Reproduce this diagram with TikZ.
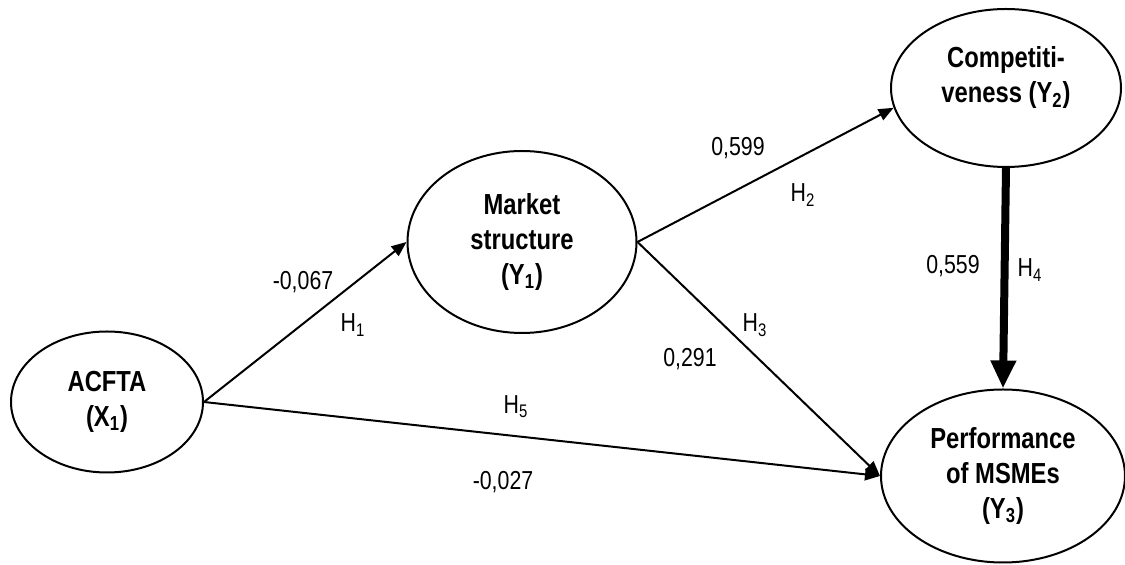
\documentclass[tikz,border=0pt]{standalone}
\usepackage{fontspec}
\setmainfont{Liberation Sans}[FakeStretch=0.82]
\usetikzlibrary{shapes.geometric,arrows.meta}

\begin{document}
\begin{tikzpicture}[x=0.5pt, y=-0.5pt,
    latent/.style={draw, ellipse, line width=1pt, inner sep=0pt, align=center,
        font=\bfseries\fontsize{14.5}{17.5}\selectfont},
    effect/.style={line width=1pt, -{Triangle[length=7.5pt, width=6pt]}},
    strongeffect/.style={line width=4pt, -{Triangle[length=14pt, width=12pt]}},
    coef/.style={font=\fontsize{13}{15}\selectfont}]

\useasboundingbox (0,0) rectangle (1125,565);

% constructs
\node[latent, minimum width=96pt, minimum height=70.5pt] (acfta) at (107,402) {ACFTA\\(X\textsubscript{1})};
\node[latent, minimum width=114.5pt, minimum height=91pt] (market) at (522,242) {Market\\structure\\(Y\textsubscript{1})};
\node[latent, minimum width=115pt, minimum height=79pt, text depth=13pt] (comp) at (1006,88) {Competiti-\\veness (Y\textsubscript{2})};
\node[latent, minimum width=122pt, minimum height=86.5pt] (perf) at (1003,476) {Performance\\of MSMEs\\(Y\textsubscript{3})};

% paths
\draw[effect] (acfta.east) -- (market.west);
\draw[effect] (market.east) -- (comp.190);
\draw[effect] (market.east) -- (perf.west);
\draw[effect] (acfta.east) -- (perf.west);
\draw[strongeffect] (comp.south) -- (perf.north);

% coefficients
\node[coef] (b1) at (303,282) {-0,067};
\node[coef] (b2) at (738,148) {0,599};
\node[coef] (b3) at (690,359) {0,291};
\node[coef] (b4) at (953,266) {0,559};
\node[coef] (b5) at (503,482) {-0,027};

% hypotheses
\node[coef] (h1) at (353,325) {H\textsubscript{1}};
\node[coef] (h2) at (803,195) {H\textsubscript{2}};
\node[coef] (h3) at (755,325) {H\textsubscript{3}};
\node[coef] (h4) at (1030,270) {H\textsubscript{4}};
\node[coef] (h5) at (516,407) {H\textsubscript{5}};

\end{tikzpicture}
\end{document}
